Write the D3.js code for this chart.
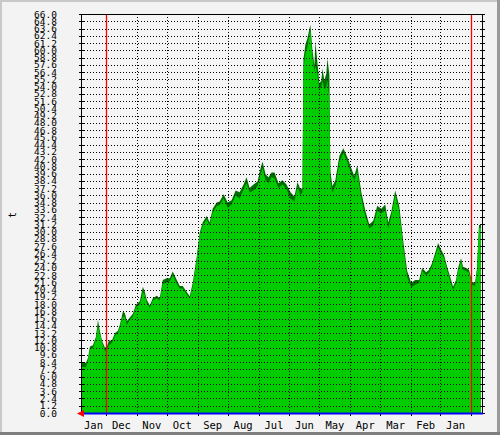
<!DOCTYPE html>
<html><head><meta charset="utf-8">
<script src="https://cdn.jsdelivr.net/npm/d3@7"></script>
<style>html,body{margin:0;padding:0;background:#f3f3f3;}svg{display:block;}</style>
</head><body>
<script>
// ---- data ----
const yAxisTitle = "t";
const monthLabels = ["Jan","Dec","Nov","Oct","Sep","Aug","Jul","Jun","May","Apr","Mar","Feb","Jan"];
const latestDate = "2013-01-26";
const earliestDate = "2011-12-21";
const yearMarks = ["2013-01-01","2012-01-01"];
// days before latestDate
const daysAgo = [0,5,7,9,12,15,17,19,21,24,26,28,31,34,37,39,42,44,46,49,52,55,59,62,64,66,69,72,76,79,82,86,89,92,96,99,102,106,109,112,116,119,122,126,129,132,136,139,143,147,151,155,159,163,166,169,173,177,180,182,185,188,191,194,198,202,206,210,214,217,220,222,223,225,227,229,230,232,234,235,237,239,241,242,244,246,247,249,250,252,255,259,263,267,271,274,277,281,285,289,293,297,301,305,308,311,315,319,323,327,331,335,339,342,346,349,352,356,358,361,364,367,371,373,376,378,381,383,386,389,392,395,397,399,401];
const avgValues = [7.6,7.6,8.8,10.5,10.8,12.2,14.3,13.2,11.8,10.2,10.5,11.2,11.6,12.8,13.2,14.3,16.0,15.8,14.6,15.4,16.0,17.5,18.0,20.0,19.5,18.2,17.4,18.6,19.0,18.6,21.4,21.6,21.8,22.8,21.4,20.6,20.6,19.6,19.0,21.0,25.4,29.4,31.0,32.0,31.0,33.2,34.2,34.4,35.5,34.0,34.5,36.0,35.5,37.0,38.0,36.5,36.8,37.5,39.5,40.5,38.5,38.0,39.0,38.8,37.2,37.8,37.0,35.5,35.0,37.5,36.0,36.5,57.0,59.5,60.5,62.8,63.2,59.0,56.5,57.5,56.0,53.5,54.0,55.0,53.5,54.0,55.0,52.0,38.5,36.5,37.5,41.5,43.0,41.5,39.5,38.5,40.0,35.5,32.5,30.5,31.0,33.5,33.0,33.5,30.5,32.5,36.0,33.5,27.5,22.5,20.8,21.2,21.5,23.5,22.8,23.2,24.3,26.5,27.4,26.4,25.6,23.6,21.4,20.3,21.5,23.5,25.0,23.7,23.5,23.2,21.2,21.0,23.5,30.6,30.6];
const maxValues = [8.3,8.3,9.1,11.0,11.2,12.6,15.4,13.5,12.0,10.8,11.0,12.0,12.0,13.2,13.6,14.6,16.8,16.5,15.2,15.8,16.4,17.9,18.5,20.9,20.0,18.7,17.8,19.0,19.4,19.0,22.0,22.3,22.3,23.4,22.0,21.0,21.0,20.0,19.3,21.5,25.8,29.8,31.5,32.6,31.5,33.8,34.8,35.0,36.2,34.8,35.2,36.8,36.5,37.8,39.0,37.2,37.8,38.3,40.5,41.6,39.5,39.0,39.8,39.8,38.0,38.5,37.8,36.5,35.8,38.2,37.0,37.2,58.5,61.0,62.0,63.5,64.2,60.0,57.5,61.4,58.0,54.5,55.0,57.0,55.0,56.2,58.7,56.0,40.0,37.5,38.5,42.5,43.8,42.3,40.5,39.2,41.0,36.5,33.5,31.2,31.8,34.3,33.8,34.5,31.5,33.2,36.8,34.3,28.5,23.5,21.5,22.0,22.0,24.0,23.3,23.7,24.8,27.0,28.1,27.0,26.1,24.2,22.0,20.9,22.0,24.0,25.6,24.2,24.0,23.7,21.7,21.5,24.0,31.1,31.1];
const yMin = 0, yMax = 66, yStep = 1.2;

// ---- layout ----
const W = 500, H = 435;
const L = 81, R = 482, T = 14, B = 413;
const parse = d3.utcParse("%Y-%m-%d");
const tLatest = parse(latestDate), tEarliest = parse(earliestDate);

const svg = d3.select("body").append("svg").attr("width", W).attr("height", H);
// frame
svg.append("rect").attr("x",0).attr("y",0).attr("width",W).attr("height",H).attr("fill","#f3f3f3");
svg.append("rect").attr("x",0).attr("y",0).attr("width",W).attr("height",2).attr("fill","#c9c9c9");
svg.append("rect").attr("x",0).attr("y",0).attr("width",2).attr("height",H).attr("fill","#c9c9c9");
svg.append("rect").attr("x",W-3).attr("y",0).attr("width",3).attr("height",H).attr("fill","#9a9a9a");
svg.append("rect").attr("x",0).attr("y",H-3).attr("width",W).attr("height",3).attr("fill","#7f7f7f");

const x = d3.scaleUtc().domain([tLatest, tEarliest]).range([L, R]);
const y = d3.scaleLinear().domain([yMin, yMax]).range([B, T]);

const data = daysAgo.map((d,i)=>({t: d3.utcDay.offset(tLatest, -d), a: avgValues[i], m: maxValues[i]}));

// plot background
svg.append("rect").attr("x",L).attr("y",T).attr("width",R-L).attr("height",B-T).attr("fill","#f5f5f5");

// areas
const areaMax = d3.area().x(d=>x(d.t)).y0(y(0)).y1(d=>y(d.m)).curve(d3.curveLinear);
const areaAvg = d3.area().x(d=>x(d.t)).y0(y(0)).y1(d=>y(d.a)).curve(d3.curveLinear);
svg.append("path").datum(data).attr("d",areaMax).attr("fill","#007000");
svg.append("path").datum(data).attr("d",areaAvg).attr("fill","#00cc00");

// horizontal grid
const nY = Math.round((yMax-yMin)/yStep);
const yTicks = d3.range(0, nY+1).map(i=>+(yMin+i*yStep).toFixed(1));
const gGrid = svg.append("g");
gGrid.selectAll("line.h").data(yTicks.filter(v=>v>yMin && v<yMax)).join("line")
  .attr("x1",L).attr("x2",R).attr("y1",d=>Math.round(y(d))+0.5).attr("y2",d=>Math.round(y(d))+0.5)
  .attr("stroke","#000").attr("stroke-width",1).attr("stroke-dasharray","1,2");

// vertical month grid
const monthBounds = d3.utcMonth.range(tEarliest, tLatest);
gGrid.selectAll("line.v").data(monthBounds).join("line")
  .attr("x1",d=>Math.round(x(d))+0.5).attr("x2",d=>Math.round(x(d))+0.5).attr("y1",T).attr("y2",B)
  .attr("stroke","#000").attr("stroke-width",1).attr("stroke-dasharray","1,2");

// year rules (red)
svg.selectAll("line.yr").data(yearMarks.map(parse)).join("line")
  .attr("x1",d=>Math.round(x(d))+0.5).attr("x2",d=>Math.round(x(d))+0.5).attr("y1",T).attr("y2",B)
  .attr("stroke","#ff0000").attr("stroke-width",1.3);

// frame lines
svg.append("line").attr("x1",L).attr("x2",R+1).attr("y1",T+0.5).attr("y2",T+0.5).attr("stroke","#000");
svg.append("line").attr("x1",L+0.5).attr("x2",L+0.5).attr("y1",T).attr("y2",B).attr("stroke","#000");
svg.append("line").attr("x1",R+0.5).attr("x2",R+0.5).attr("y1",T).attr("y2",B).attr("stroke","#000");
// y ticks crossing both sides
svg.selectAll("line.ytl").data(yTicks).join("line")
  .attr("x1",L-2).attr("x2",L+3).attr("y1",d=>Math.round(y(d))+0.5).attr("y2",d=>Math.round(y(d))+0.5).attr("stroke","#000");
svg.selectAll("line.ytr").data(yTicks).join("line")
  .attr("x1",R-2).attr("x2",R+3).attr("y1",d=>Math.round(y(d))+0.5).attr("y2",d=>Math.round(y(d))+0.5).attr("stroke","#000");
// x ticks
svg.selectAll("line.xt").data(monthBounds).join("line")
  .attr("x1",d=>Math.round(x(d))+0.5).attr("x2",d=>Math.round(x(d))+0.5).attr("y1",B).attr("y2",B+3).attr("stroke","#000");
// blue baseline
svg.append("line").attr("x1",L).attr("x2",R+1).attr("y1",B+0.5).attr("y2",B+0.5).attr("stroke","#0000ff").attr("stroke-width",2);
// red arrow
svg.append("path").attr("d",`M${L-4},${B+0.5} L${L+3},${B-3} L${L+3},${B+4} Z`).attr("fill","#ff0000");

// y labels
svg.selectAll("text.yl").data(yTicks).join("text")
  .attr("x",57).attr("y",d=>y(d)+3.5).attr("text-anchor","end")
  .attr("font-family","DejaVu Sans Mono").attr("font-size","9.5px").attr("fill","#000")
  .text(d=>d.toFixed(1));

// x labels centered in month intervals
const bounds = [tLatest, ...d3.utcMonth.range(tEarliest, tLatest).reverse().slice(0)];
// intervals (from left to right): between consecutive boundaries
const allB = [tLatest].concat(d3.utcMonth.range(tEarliest, tLatest).reverse());
const centers = monthLabels.map((lab,i)=>{
  const a = allB[i], b = allB[i+1];
  return {lab, cx: (x(a)+x(b))/2};
});
svg.selectAll("text.xl").data(centers).join("text")
  .attr("x",d=>d.cx).attr("y",429).attr("text-anchor","middle")
  .attr("font-family","DejaVu Sans Mono").attr("font-size","10.5px").attr("fill","#000")
  .text(d=>d.lab);

// y title
svg.append("text").attr("transform","translate(16,215) rotate(-90)").attr("text-anchor","middle")
  .attr("font-family","DejaVu Sans Mono").attr("font-size","10px").attr("fill","#000").text(yAxisTitle);
</script>
</body></html>
